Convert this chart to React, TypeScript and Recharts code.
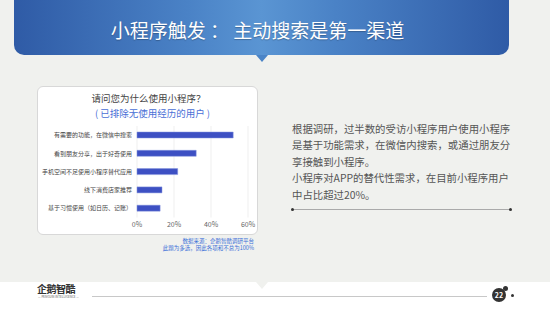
import React from "react";
import { BarChart, Bar, XAxis, YAxis, CartesianGrid } from "recharts";

const categories = [
  "有需要的功能，在微信中搜索",
  "看到朋友分享，出于好奇使用",
  "手机空间不足使用小程序替代应用",
  "线下消费店家推荐",
  "基于习惯使用（如日历、记账）",
];
const shares = [52, 32, 22, 13.5, 12.5];
const xTicks = [0, 20, 40, 60];

const data = categories.map((name, i) => ({ name, value: shares[i] }));

const FONT = '"Noto Sans CJK SC", "Noto Sans", sans-serif';

export default function App() {
  return (
    <div
      style={{
        position: "absolute",
        left: 0,
        top: 0,
        width: 550,
        height: 309,
        background: "#f0f1ee",
        fontFamily: FONT,
        overflow: "hidden",
      }}
    >
      {/* banner */}
      <div
        style={{
          position: "absolute",
          left: 14,
          top: 0,
          width: 495,
          height: 55,
          borderRadius: "0 0 10px 10px",
          background:
            "linear-gradient(90deg, #2f5ba6 0%, #4a82c6 35%, #5a95d3 50%, #4a82c6 65%, #2f5ba6 100%)",
          color: "#fff",
          fontSize: 19,
          lineHeight: "55px",
          textAlign: "center",
          textShadow: "0 1px 1px rgba(0,0,0,0.25)",
          paddingTop: 2,
          paddingRight: 8,
          boxSizing: "border-box",
        }}
      >
        小程序触发 ： 主动搜索是第一渠道
      </div>
      <div
        style={{
          position: "absolute",
          left: 256,
          top: 55,
          width: 0,
          height: 0,
          borderLeft: "6px solid transparent",
          borderRight: "6px solid transparent",
          borderTop: "7px solid #4a84c7",
        }}
      />

      {/* chart card */}
      <div
        style={{
          position: "absolute",
          left: 37,
          top: 86,
          width: 221,
          height: 149,
          background: "#fff",
          border: "1px solid #d8d8d8",
          borderRadius: 6,
          boxSizing: "border-box",
        }}
      >
        <div
          style={{
            position: "absolute",
            left: 0,
            top: 4,
            width: 221,
            textAlign: "center",
            fontSize: 9.5,
            color: "#444",
            lineHeight: "14px",
          }}
        >
          请问您为什么使用小程序？
        </div>
        <div
          style={{
            position: "absolute",
            left: 4,
            top: 19,
            width: 221,
            textAlign: "center",
            fontSize: 9.5,
            color: "#4a6fd6",
            lineHeight: "14px",
          }}
        >
          ( 已排除无使用经历的用户 )
        </div>
        <div style={{ position: "absolute", left: -1, top: -1 }}>
          <BarChart
            width={221}
            height={149}
            data={data}
            layout="vertical"
            margin={{ top: 40, right: 10, left: 0, bottom: 3.5 }}
          >
            <CartesianGrid horizontal={false} stroke="#efefef" />
            <XAxis
              type="number"
              domain={[0, 60]}
              ticks={xTicks}
              tickFormatter={(v) => `${v}%`}
              axisLine={false}
              tickLine={false}
              tickSize={3}
              tickMargin={2}
              height={14}
              tick={{ fontSize: 7, fill: "#666", fontFamily: FONT }}
              interval={0}
            />
            <YAxis
              type="category"
              dataKey="name"
              width={100}
              axisLine={false}
              tickLine={false}
              tickSize={3}
              tickMargin={2}
              interval={0}
              tick={{ fontSize: 6, fill: "#444", fontFamily: FONT }}
            />
            <Bar
              dataKey="value"
              fill="#3d50c3"
              stroke="#8795de"
              strokeWidth={0.5}
              barSize={6}
              isAnimationActive={false}
            />
          </BarChart>
        </div>
      </div>

      {/* source */}
      <div
        style={{
          position: "absolute",
          left: 140,
          top: 238,
          width: 114,
          textAlign: "right",
          fontSize: 5.5,
          lineHeight: "7px",
          color: "#3a6fd8",
        }}
      >
        数据来源：企鹅智酷调研平台
        <br />
        此题为多选，因此各项和不总为100%
      </div>

      {/* right text */}
      <div
        style={{
          position: "absolute",
          left: 292,
          top: 121,
          width: 230,
          fontSize: 10.4,
          lineHeight: "16.4px",
          color: "#555",
          whiteSpace: "nowrap",
        }}
      >
        根据调研，过半数的受访小程序用户使用小程序
        <br />
        是基于功能需求，在微信内搜索，或通过朋友分
        <br />
        享接触到小程序。
        <br />
        小程序对APP的替代性需求，在目前小程序用户
        <br />
        中占比超过20%。
      </div>
      <div
        style={{
          position: "absolute",
          left: 292,
          top: 208.5,
          width: 218,
          height: 1,
          background: "#aaa",
        }}
      />
      <div style={{ position: "absolute", left: 290.5, top: 207.5, width: 3, height: 3, borderRadius: 2, background: "#333" }} />
      <div style={{ position: "absolute", left: 508.5, top: 207.5, width: 3, height: 3, borderRadius: 2, background: "#333" }} />

      {/* footer */}
      <div
        style={{
          position: "absolute",
          left: 0,
          top: 282,
          width: 550,
          height: 27,
          background: "#fff",
        }}
      />
      <div
        style={{
          position: "absolute",
          left: 256,
          top: 282,
          width: 0,
          height: 0,
          borderLeft: "6px solid transparent",
          borderRight: "6px solid transparent",
          borderTop: "7px solid #f0f1ee",
        }}
      />
      <div
        style={{
          position: "absolute",
          left: 37,
          top: 283,
          fontSize: 10,
          lineHeight: "11px",
          color: "#333",
          fontWeight: 700,
          letterSpacing: -0.5,
        }}
      >
        企鹅智酷
      </div>
      <div
        style={{
          position: "absolute",
          left: 36,
          top: 295,
          width: 45,
          fontSize: 3,
          lineHeight: "4px",
          color: "#555",
          textAlign: "center",
          whiteSpace: "nowrap",
        }}
      >
        — PENGUIN INTELLIGENCE —
      </div>
      <div
        style={{
          position: "absolute",
          left: 92,
          top: 296,
          width: 395,
          height: 1,
          background: "#c8c8c8",
        }}
      />
      <div
        style={{
          position: "absolute",
          left: 492,
          top: 288,
          width: 14,
          height: 14,
          borderRadius: 7,
          background: "#333",
          color: "#fff",
          fontSize: 7,
          lineHeight: "14px",
          textAlign: "center",
          fontWeight: 700,
        }}
      >
        22
      </div>
      <div style={{ position: "absolute", left: 503, top: 285.5, width: 5, height: 5, borderRadius: 3, background: "#333" }} />
      <div style={{ position: "absolute", left: 511, top: 294, width: 2.5, height: 2.5, borderRadius: 2, background: "#333" }} />
    </div>
  );
}
